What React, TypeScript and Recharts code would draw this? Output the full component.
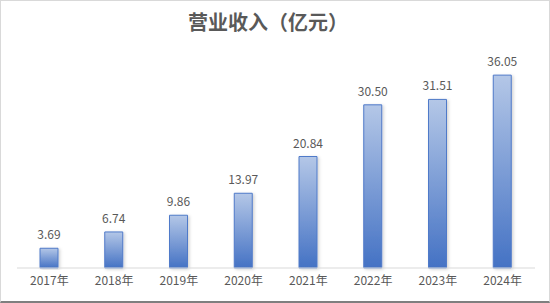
import React from 'react';
import { BarChart, Bar, XAxis, YAxis, LabelList } from 'recharts';

const years = ['2017年', '2018年', '2019年', '2020年', '2021年', '2022年', '2023年', '2024年'];
const revenue = [3.69, 6.74, 9.86, 13.97, 20.84, 30.5, 31.51, 36.05];

const chartData = years.map((year, i) => ({ year, value: revenue[i] }));

const font = '"Noto Sans CJK SC", "Noto Sans", sans-serif';

const App: React.FC = () => {
  return (
    <div
      style={{
        position: 'absolute',
        left: 0,
        top: 0,
        width: 550,
        height: 303,
        boxSizing: 'border-box',
        border: '1px solid #d9d9d9',
        borderBottom: '2px solid #7f7f7f',
        background: '#fff',
        fontFamily: font,
      }}
    >
      <div
        style={{
          position: 'absolute',
          left: 0,
          top: 6,
          width: 534,
          textAlign: 'center',
          fontSize: 20,
          fontWeight: 700,
          color: '#595959',
          lineHeight: '30px',
        }}
      >
        营业收入（亿元）
      </div>
      <div style={{ position: 'absolute', left: -1, top: -1 }}>
        <BarChart
          width={550}
          height={303}
          data={chartData}
          margin={{ top: 54, right: 15, bottom: 5, left: 17 }}
        >
          <defs>
            <linearGradient id="barFill" x1="0" y1="0" x2="0" y2="1">
              <stop offset="0%" stopColor="#b4c7e7" />
              <stop offset="100%" stopColor="#4472c4" />
            </linearGradient>
            <filter id="barShadow" x="-30%" y="-10%" width="160%" height="120%">
              <feDropShadow dx="1.5" dy="1" stdDeviation="1.5" floodColor="#000" floodOpacity="0.18" />
            </filter>
          </defs>
          <XAxis
            dataKey="year"
            height={30}
            tickLine={false}
            axisLine={{ stroke: '#d9d9d9' }}
            tick={{ fill: '#595959', fontSize: 12, fontFamily: font }}
            interval={0}
          />
          <YAxis hide domain={[0, 40]} />
          <Bar
            dataKey="value"
            barSize={18}
            fill="url(#barFill)"
            stroke="#4f7ac9"
            strokeWidth={1}
            filter="url(#barShadow)"
            isAnimationActive={false}
          >
            <LabelList
              dataKey="value"
              position="top"
              offset={9}
              fill="#595959"
              fontSize={12}
              fontFamily={font}
              formatter={(v: number) => v.toFixed(2)}
            />
          </Bar>
        </BarChart>
      </div>
    </div>
  );
};

export default App;
